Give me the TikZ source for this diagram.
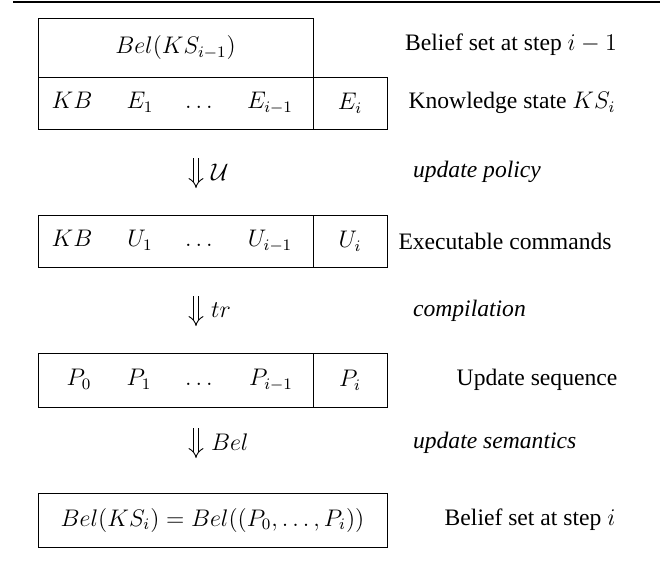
\documentclass[tikz,border=0pt]{standalone}
\usepackage{fontspec}
\setmainfont{Liberation Serif}
\usepackage{tikz}
\usetikzlibrary{arrows.meta,positioning}

\begin{document}
\begin{tikzpicture}[x=0.5pt,y=-0.5pt,
    every node/.style={font=\fontsize{11.8}{14}\selectfont},
    cell/.style={rectangle, draw=black, fill=none, inner sep=0pt},
    entry/.style={inner sep=0pt, text height=1.6ex, text depth=0.4ex},
    dbl/.style={double, double distance=2.2pt, line width=0.45pt,
      -{Implies[length=3.5pt]}},
    policy/.style={anchor=west, font=\fontsize{11.8}{14}\selectfont\itshape}]%
  \useasboundingbox (0,0) rectangle (668,562);
  \coordinate (ruleL) at (13,2);
  \coordinate (ruleR) at (660,2);
  \draw [line width=0.6pt] (ruleL) -- (ruleR);

  % belief set at step i-1
  \node[cell, minimum width=137.5pt, minimum height=29.5pt] (belprev)
    at (175.5,47.5) {$Bel(KS_{i-1})$};
  \node (txtprev) at (511,45) {Belief set at step $i-1$};

  % knowledge state
  \node[cell, minimum width=137.5pt, minimum height=26pt] (ks)
    at (175.5,103) {};
  \node[cell, minimum width=37pt, minimum height=26pt] (ksi)
    at (350,103) {$E_i$};
  \foreach \t/\x/\n in {KB/72/1, E_1/140/2, \ldots/199/3, E_{i-1}/270/4}
    \node[entry] (ks\n) at (\x,103) {$\t$};
  \node (txtks) at (512,103) {Knowledge state $KS_i$};

  \coordinate (u1) at (196,158);
  \coordinate (u2) at (196,188);
  \draw [dbl] (u1) -- (u2);
  \node[anchor=west] (lblu) at (204,172) {$\mathcal{U}$};
  \node[policy] (polu) at (406,172) {update policy};

  % executable commands
  \node[cell, minimum width=137.5pt, minimum height=26pt] (uc)
    at (175.5,241) {};
  \node[cell, minimum width=37pt, minimum height=26pt] (uci)
    at (350,241) {$U_i$};
  \foreach \t/\x/\n in {KB/72/1, U_1/140/2, \ldots/199/3, U_{i-1}/270/4}
    \node[entry] (uc\n) at (\x,241) {$\t$};
  \node (txtuc) at (505,241) {Executable commands};

  \coordinate (t1) at (196,296);
  \coordinate (t2) at (196,326);
  \draw [dbl] (t1) -- (t2);
  \node[anchor=west] (lbltr) at (204,310) {$tr$};
  \node[policy] (polt) at (406,311) {compilation};

  % update sequence
  \node[cell, minimum width=137.5pt, minimum height=27pt] (us)
    at (175.5,380) {};
  \node[cell, minimum width=37pt, minimum height=27pt] (usi)
    at (350,380) {$P_i$};
  \foreach \t/\x/\n in {P_0/79/1, P_1/139/2, \ldots/199/3, P_{i-1}/271/4}
    \node[entry] (us\n) at (\x,380) {$\t$};
  \node (txtus) at (537,380) {Update sequence};

  \coordinate (b1) at (196,428);
  \coordinate (b2) at (196,458);
  \draw [dbl] (b1) -- (b2);
  \node[anchor=west] (lblbel) at (204,442) {$Bel$};
  \node[policy] (polb) at (406,443) {update semantics};

  % belief set at step i
  \node[cell, minimum width=174.5pt, minimum height=27pt] (belnew)
    at (212.5,520) {$Bel(KS_i) = Bel((P_0,\ldots,P_i))$};
  \node (txtnew) at (530,520) {Belief set at step $i$};
\end{tikzpicture}
\end{document}
